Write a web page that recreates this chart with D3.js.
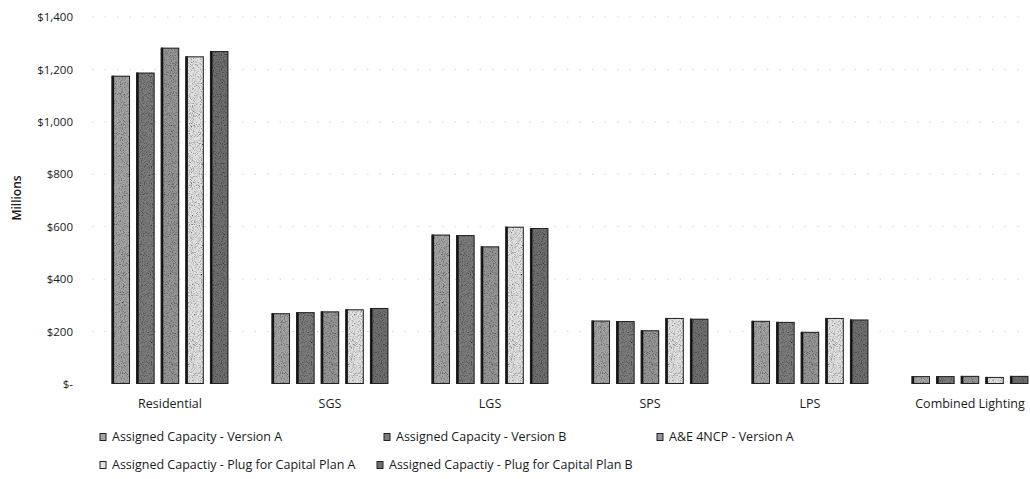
<!DOCTYPE html>
<html>
<head>
<meta charset="utf-8">
<script src="https://cdn.jsdelivr.net/npm/d3@7"></script>
<style>
  html, body { margin: 0; padding: 0; background: #fff; }
  svg { display: block; }
  text { font-family: "Open Sans", "Liberation Sans", sans-serif; fill: #1a1a1a; }
</style>
</head>
<body>
<svg id="chart" width="1030" height="479"></svg>
<script>
const categories = ["Residential", "SGS", "LGS", "SPS", "LPS", "Combined Lighting"];
const seriesNames = [
  "Assigned Capacity - Version A",
  "Assigned Capacity - Version B",
  "A&E 4NCP - Version A",
  "Assigned Capactiy - Plug for Capital Plan A",
  "Assigned Capactiy - Plug for Capital Plan B"
];
const versionA     = [1176, 270, 570, 242, 241, 30];
const versionB     = [1188, 274, 568, 240, 237, 30];
const ae4ncpA      = [1283, 277, 525, 205, 199, 31];
const plugCapPlanA = [1250, 285, 600, 252, 252, 27];
const plugCapPlanB = [1270, 290, 595, 249, 246, 31];
const seriesValues = [versionA, versionB, ae4ncpA, plugCapPlanA, plugCapPlanB];
const yTicks = [0, 200, 400, 600, 800, 1000, 1200, 1400];
const yTickLabels = ["$-", "$200", "$400", "$600", "$800", "$1,000", "$1,200", "$1,400"];

const seriesFill = ["#a4a4a4", "#7c7c7c", "#969696", "#e2e2e2", "#707070"];

const svg = d3.select("#chart");

// grain filter to mimic scanned halftone texture
const defs = svg.append("defs");
const f = defs.append("filter").attr("id", "grain").attr("x", 0).attr("y", 0).attr("width", 1).attr("height", 1);
f.append("feTurbulence").attr("type", "fractalNoise").attr("baseFrequency", 1.1).attr("numOctaves", 1).attr("seed", 5).attr("result", "noise");
f.append("feColorMatrix").attr("in", "noise").attr("type", "saturate").attr("values", 0).attr("result", "gray");
const ct = f.append("feComponentTransfer").attr("in", "gray").attr("result", "contrast");
["feFuncR", "feFuncG", "feFuncB"].forEach(n => ct.append(n).attr("type", "linear").attr("slope", 3).attr("intercept", -0.6));
ct.append("feFuncA").attr("type", "linear").attr("slope", 0).attr("intercept", 1);
f.append("feBlend").attr("in", "SourceGraphic").attr("in2", "contrast").attr("mode", "multiply").attr("result", "blend");
f.append("feComposite").attr("in", "blend").attr("in2", "SourceGraphic").attr("operator", "in");

const y = d3.scaleLinear().domain([0, 1400]).range([384, 17]);
const x = d3.scaleBand().domain(categories).range([90, 1050]).paddingInner(0.27).paddingOuter(0.135);
const xs = d3.scaleBand().domain(d3.range(seriesNames.length)).range([0, x.bandwidth()]).paddingInner(0.25);

// very faint dotted gridlines
svg.append("g").selectAll("line").data(yTicks.slice(1)).join("line")
  .attr("x1", 92).attr("x2", 1025)
  .attr("y1", d => y(d)).attr("y2", d => y(d))
  .attr("stroke", "#d4d4d4").attr("stroke-width", 1).attr("stroke-dasharray", "1.5,11");

// y axis labels
const yAxis = d3.axisLeft(y).tickValues(yTicks).tickFormat((d, i) => yTickLabels[i]).tickSize(0).tickPadding(0);
const gy = svg.append("g").attr("transform", "translate(73,0)").call(yAxis);
gy.select(".domain").remove();
gy.selectAll("text").style("font-size", "11.5px").style("font-family", "'Open Sans', sans-serif").attr("fill", "#1a1a1a");

svg.append("text").attr("transform", "translate(21,198) rotate(-90)")
  .attr("text-anchor", "middle").style("font-size", "12px").style("font-weight", "600").text("Millions");

// bars
const barData = (c, ci) => seriesValues.map((vals, si) => ({ si, v: vals[ci] }));
const groups = svg.append("g").selectAll("g").data(categories).join("g")
  .attr("transform", d => `translate(${x(d)},0)`);
groups.selectAll("rect.bar").data(barData).join("rect")
  .attr("class", "bar")
  .attr("x", d => xs(d.si)).attr("width", xs.bandwidth())
  .attr("y", d => y(d.v)).attr("height", d => y(0) - y(d.v))
  .attr("fill", d => seriesFill[d.si])
  .attr("filter", "url(#grain)");
groups.selectAll("rect.edge").data(barData).join("rect")
  .attr("class", "edge")
  .attr("x", d => xs(d.si)).attr("width", 2.5)
  .attr("y", d => y(d.v)).attr("height", d => y(0) - y(d.v))
  .attr("fill", "#111");
groups.selectAll("rect.outline").data(barData).join("rect")
  .attr("class", "outline")
  .attr("x", d => xs(d.si) + 0.5).attr("width", xs.bandwidth() - 1)
  .attr("y", d => y(d.v) + 0.5).attr("height", d => Math.max(0, y(0) - y(d.v) - 1))
  .attr("fill", "none").attr("stroke", "#222").attr("stroke-width", 1);

// x axis labels
const xAxis = d3.axisBottom(x).tickSize(0).tickPadding(0);
const gx = svg.append("g").attr("transform", "translate(0,399)").call(xAxis);
gx.select(".domain").remove();
gx.selectAll("text").style("font-size", "12.5px").style("font-family", "'Open Sans', sans-serif").attr("fill", "#1a1a1a");

// legend
const legendPos = [
  { x: 103, y: 437 }, { x: 387, y: 437 }, { x: 660, y: 437 },
  { x: 103, y: 465 }, { x: 380, y: 465 }
];
const lg = svg.append("g").selectAll("g").data(seriesNames).join("g")
  .attr("transform", (d, i) => `translate(${legendPos[i].x},${legendPos[i].y})`);
lg.append("rect").attr("x", -3).attr("y", -3.5).attr("width", 6).attr("height", 7)
  .attr("fill", (d, i) => seriesFill[i]).attr("stroke", "#222").attr("stroke-width", 1);
lg.append("text").attr("x", 9).attr("dy", "0.35em").style("font-size", "12.5px").text(d => d);
</script>
</body>
</html>
